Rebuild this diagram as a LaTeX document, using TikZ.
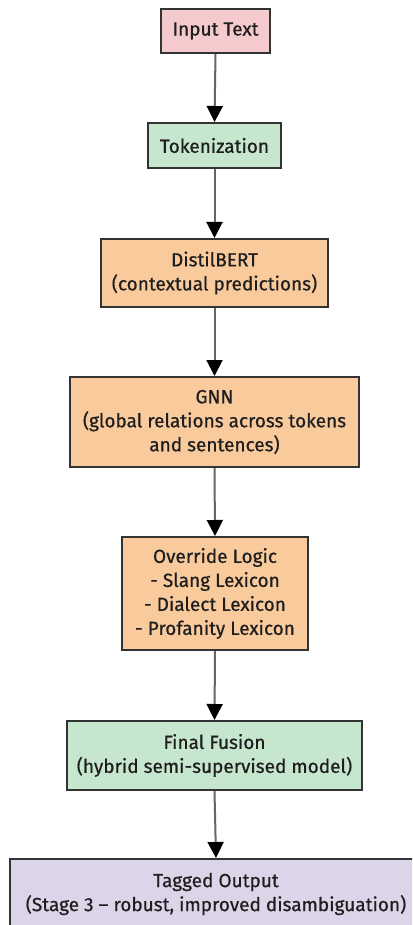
\documentclass[tikz,border=0pt]{standalone}
\usepackage{fontspec}
\setmainfont{Fira Sans}
\newfontfamily\boxfont{Fira Sans}[FakeBold=0.6,Ligatures=TeX]
\usetikzlibrary{arrows.meta}
\definecolor{pinkfill}{HTML}{F5CACC}
\definecolor{greenfill}{HTML}{C6E6CD}
\definecolor{orangefill}{HTML}{F9CA9C}
\definecolor{purplefill}{HTML}{DCD4E9}
\definecolor{edgegray}{HTML}{333333}
\definecolor{linegray}{HTML}{666666}
\definecolor{txt}{HTML}{1E1E1E}
\tikzset{
  box/.style={draw=edgegray, line width=2pt, rectangle, align=center,
    text=txt, inner sep=0pt, font=\boxfont\fontsize{19}{24}\selectfont},
  flow/.style={draw=linegray, line width=2pt,
    -{Triangle[width=16pt,length=16pt,fill=black,color=black]}}
}
\begin{document}
\begin{tikzpicture}[x=1pt,y=-1pt]
\useasboundingbox (0,0) rectangle (412,925);
\clip (0,0) rectangle (412,925);
\fill[white] (0,0) rectangle (412,925);

\node[box, fill=pinkfill, minimum width=109pt, minimum height=44pt] (input) at (215.5,31) {Input Text};
\node[box, fill=greenfill, minimum width=133pt, minimum height=45pt] (tok) at (214.5,145.5) {Tokenization};
\node[box, fill=orangefill, minimum width=227pt, minimum height=68pt] (bert) at (214.5,273) {DistilBERT\\(contextual predictions)};
\node[box, fill=orangefill, minimum width=289pt, minimum height=90pt] (gnn) at (214.5,422) {GNN\\(global relations across tokens\\and sentences)};
\node[box, fill=orangefill, minimum width=186pt, minimum height=113pt] (over) at (215,593.5) {Override Logic\\- Slang Lexicon\\- Dialect Lexicon\\- Profanity Lexicon};
\node[box, fill=greenfill, minimum width=295pt, minimum height=69pt] (fusion) at (214.5,755.5) {Final Fusion\\(hybrid semi-supervised model)};
\node[box, fill=purplefill, minimum width=412pt, minimum height=70pt] (out) at (216,894) {Tagged Output\\(Stage 3 – robust, improved disambiguation)};

\draw[flow] (input.south) -- (tok.north);
\draw[flow] (tok.south) -- (bert.north);
\draw[flow] (bert.south) -- (gnn.north);
\draw[flow] (gnn.south) -- (over.north);
\draw[flow] (over.south) -- (fusion.north);
\draw[flow] (fusion.south) -- (out.north);
\end{tikzpicture}
\end{document}
